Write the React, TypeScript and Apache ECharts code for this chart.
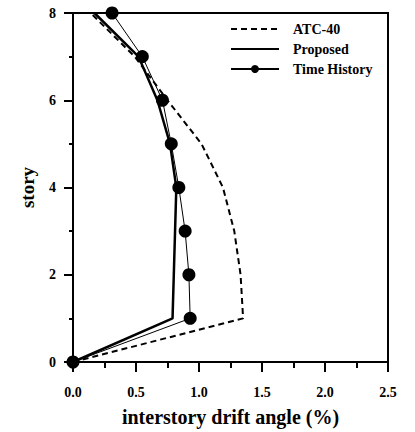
import React, { useEffect, useRef } from "react";
import * as echarts from "echarts";

const stories = [0, 1, 2, 3, 4, 5, 6, 7, 8];
const atcDrift = [0, 1.35, 1.33, 1.28, 1.19, 1.02, 0.75, 0.49, 0.14];
const proposedDrift = [0, 0.79, 0.8, 0.81, 0.82, 0.77, 0.67, 0.52, 0.17];
const timeHistoryDrift = [0, 0.93, 0.92, 0.89, 0.84, 0.78, 0.71, 0.55, 0.31];
const seriesNames = ["ATC-40", "Proposed", "Time History"];

const FONT = "'Liberation Serif', 'Times New Roman', serif";

const pairs = (xs: number[]) => xs.map((x, i) => [x, stories[i]]);

export default function App() {
  const ref = useRef<HTMLDivElement>(null);
  useEffect(() => {
    if (!ref.current) return;
    const chart = echarts.init(ref.current, null, { renderer: "svg" });
    chart.setOption({
      animation: false,
      backgroundColor: "#fff",
      grid: {
        left: 73,
        right: 27,
        top: 13,
        bottom: 70,
        outerBoundsMode: "none",
        containLabel: false,
        show: true,
        borderColor: "#000",
        borderWidth: 2,
      },
      legend: {
        data: [
          { name: seriesNames[0], itemStyle: { opacity: 0 } },
          { name: seriesNames[1], itemStyle: { opacity: 0 } },
          { name: seriesNames[2] },
        ],
        orient: "vertical",
        left: 225,
        top: 17,
        itemWidth: 48,
        itemHeight: 10,
        itemGap: 6,
        textStyle: {
          fontFamily: FONT,
          fontWeight: "bold",
          fontSize: 14,
          color: "#000",
          padding: [0, 0, 0, 9],
        },
      },
      xAxis: {
        type: "value",
        min: 0,
        max: 2.5,
        interval: 0.5,
        name: "interstory drift angle (%)",
        nameLocation: "middle",
        nameGap: 45,
        nameTextStyle: { fontFamily: FONT, fontWeight: "bold", fontSize: 20, color: "#000" },
        axisLine: { lineStyle: { color: "#000", width: 2 } },
        axisTick: { show: true, inside: false, length: 10, lineStyle: { width: 2, color: "#000" } },
        minorTick: { show: true, splitNumber: 2, length: 6, lineStyle: { width: 2, color: "#000" } },
        splitLine: { show: false },
        axisLabel: {
          margin: 23,
          fontFamily: FONT,
          fontWeight: "bold",
          fontSize: 14,
          color: "#000",
          formatter: (v: number) => v.toFixed(1),
        },
      },
      yAxis: {
        type: "value",
        min: 0,
        max: 8,
        interval: 2,
        name: "story",
        nameLocation: "middle",
        nameGap: 36,
        nameTextStyle: { fontFamily: FONT, fontWeight: "bold", fontSize: 19, color: "#000" },
        axisLine: { lineStyle: { color: "#000", width: 2 } },
        axisTick: { show: true, inside: false, length: 9, lineStyle: { width: 2, color: "#000" } },
        minorTick: { show: true, splitNumber: 2, length: 4, lineStyle: { width: 2, color: "#000" } },
        splitLine: { show: false },
        axisLabel: {
          margin: 17,
          fontFamily: FONT,
          fontWeight: "bold",
          fontSize: 14,
          color: "#000",
        },
      },
      series: [
        {
          name: seriesNames[0],
          type: "line",
          data: pairs(atcDrift),
          symbol: "none",
          clip: false,
          lineStyle: { color: "#000", width: 2, type: [6, 4] },
          itemStyle: { color: "#000" },
        },
        {
          name: seriesNames[1],
          type: "line",
          data: pairs(proposedDrift),
          symbol: "none",
          clip: false,
          lineStyle: { color: "#000", width: 2.5 },
          itemStyle: { color: "#000" },
        },
        {
          name: seriesNames[2],
          type: "line",
          data: pairs(timeHistoryDrift),
          symbol: "circle",
          symbolSize: 13,
          clip: false,
          lineStyle: { color: "#000", width: 1 },
          itemStyle: { color: "#000" },
          z: 5,
        },
      ],
    });
    return () => chart.dispose();
  }, []);
  return (
    <div
      ref={ref}
      style={{ position: "absolute", left: 0, top: 0, width: 415, height: 432 }}
    />
  );
}
